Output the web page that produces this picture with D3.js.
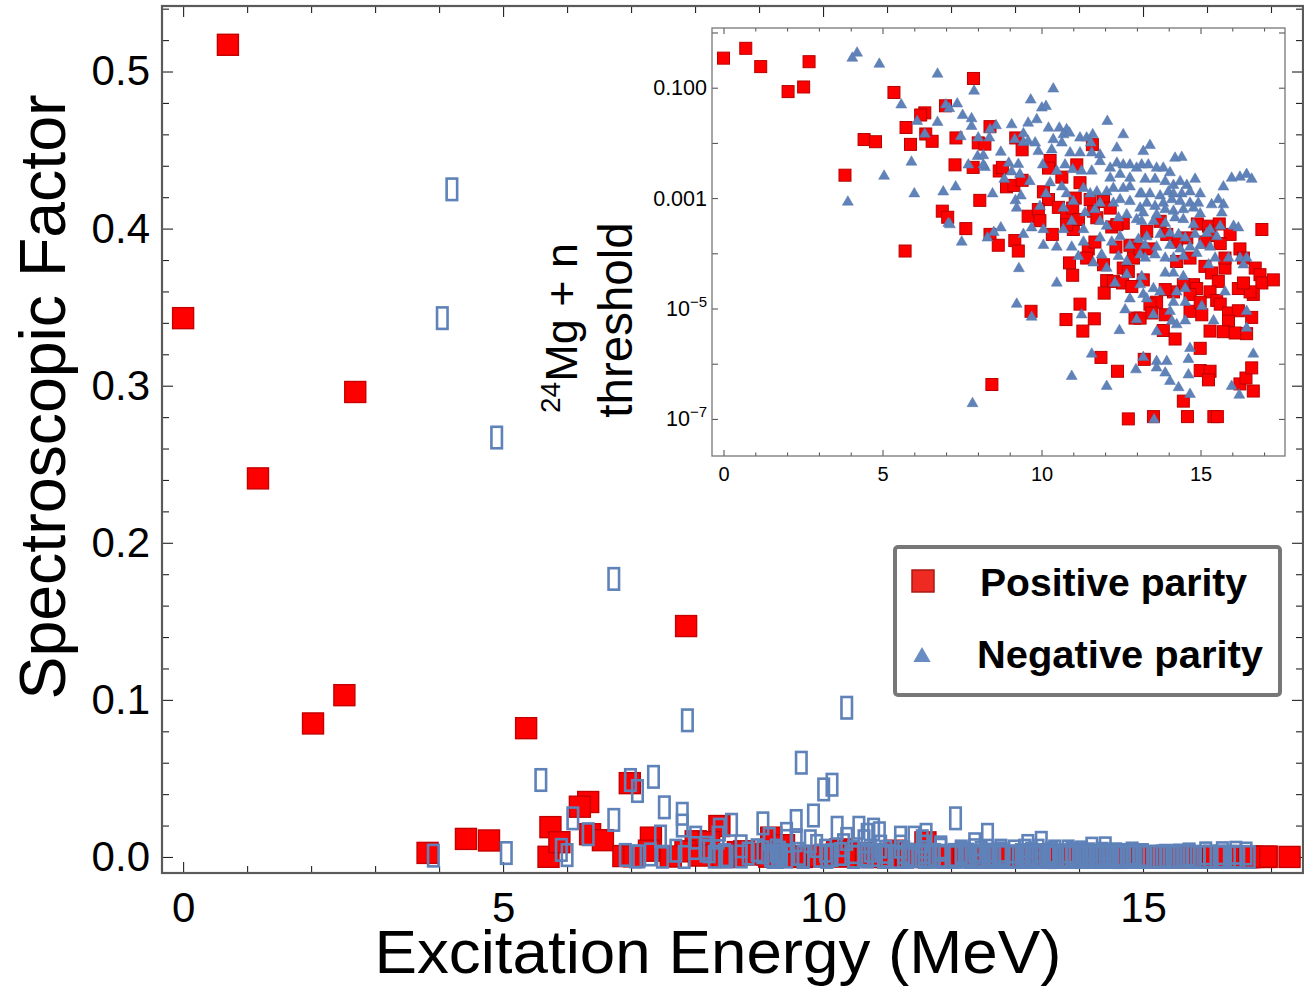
<!DOCTYPE html>
<html><head><meta charset="utf-8">
<script src="https://cdn.jsdelivr.net/npm/d3@7"></script>
<style>
body{margin:0;background:#fff}
svg{display:block}
text{font-family:"Liberation Sans",Arial,sans-serif;fill:#000}
</style></head>
<body><svg id="chart" width="1304" height="986"></svg>
<script>
// ---------- data ----------
// Positive parity: excitation energy (MeV) and spectroscopic factor
const posE = [
 0.00,0.70,1.17,2.03,2.52,2.69,3.82,4.42,4.78,5.36,
 5.74,5.71,
 7.86,6.98,6.33,6.20,6.36,6.56,5.88,7.31,8.38,8.01,
 8.22,9.19,9.39,7.28,7.85,8.67,8.77,8.90,9.13,9.39,
 8.06,6.88,7.05,7.62,8.38,8.64,9.16,9.27,9.58,9.67,
 8.44,
 10.27,10.22,11.11,10.64,11.21,11.06,11.60,10.06,10.22,9.90,
 9.95,10.53,10.79,10.98,11.00,10.79,11.16,11.63,11.53,11.74,
 11.95,12.16,12.57,12.21,12.37,10.34,11.47,11.68,11.42,10.88,
 10.98,11.95,12.34,12.78,12.89,13.10,12.57,12.73,12.05,12.26,
 12.55,12.84,11.97,11.21,10.77,11.66,11.30,12.94,11.87,12.39,
 12.73,
 14.90,15.25,15.59,15.30,15.93,16.24,15.62,15.14,14.57,14.25,
 13.94,13.73,13.31,13.41,14.25,14.67,15.14,15.35,15.77,15.77,
 16.35,16.72,16.87,16.93,17.29,16.66,16.56,16.19,16.35,15.56,
 15.30,14.78,14.88,14.67,14.46,14.15,13.89,13.62,13.41,13.20,
 13.10,13.47,13.89,14.67,14.99,15.04,15.51,15.62,15.88,16.19,
 15.88,16.61,15.30,15.72,16.09,16.45,13.83,14.20,16.93,14.99,
 13.23,14.99,15.30,15.25,16.24,16.43,16.61,16.66,14.46,13.52,
 14.59,15.42,15.53
];
const posSF = [
 0.343,0.517,0.241,0.085,0.103,0.296,0.0026,0.0115,0.0105,0.082,
 0.019,0.00011,
 0.147,0.047,0.035,0.032,0.0145,0.0107,0.0094,0.0123,0.0197,0.0100,
 0.0095,0.0123,0.0075,0.0040,0.0036,0.0031,0.0036,0.0016,0.0017,0.0021,
 0.00091,0.00058,0.00045,0.00028,0.00022,0.00014,0.00017,0.00011,0.00047,8.9e-6,
 4.2e-7,
 0.0048,0.0035,0.0040,0.0024,0.0019,0.0010,0.0093,0.0013,0.00094,0.00062,
 0.00039,0.00068,0.00047,0.00066,0.00027,0.00033,0.00041,0.00058,0.00094,0.00044,
 0.00087,0.00066,0.00035,0.00030,0.00033,0.00022,0.00012,0.00016,8.2e-5,6.7e-5,
 4.0e-5,6.2e-5,0.00013,0.00014,8.2e-5,0.00012,5.4e-5,4.7e-5,3.2e-5,3.1e-5,
 2.9e-5,2.5e-5,1.9e-5,1.2e-5,6.3e-6,6.5e-6,3.9e-6,6.7e-6,1.3e-6,7.3e-7,
 1.0e-7,
 0.00034,0.00031,0.00034,0.00021,0.00022,0.00012,0.00015,0.00016,0.00019,0.00016,
 0.00022,0.00038,0.00025,0.00012,7.1e-5,8.2e-5,5.8e-5,4.4e-5,5.4e-5,8.2e-5,
 8.2e-5,5.4e-5,4.1e-5,2.9e-5,3.3e-5,1.8e-5,2.0e-5,2.3e-5,2.9e-5,3.1e-5,
 2.0e-5,2.7e-5,2.3e-5,1.8e-5,2.7e-5,2.0e-5,2.2e-5,1.3e-5,1.2e-5,3.3e-5,
 6.7e-6,8.3e-6,7.7e-6,8.9e-6,1.3e-5,7.7e-6,1.4e-5,1.2e-5,8.3e-6,9.1e-6,
 5.9e-6,6.9e-6,3.9e-6,3.8e-6,3.6e-6,3.5e-6,4.0e-6,2.8e-6,0.00027,1.9e-6,
 1.2e-6,7.5e-7,7.3e-7,5.1e-7,4.3e-7,5.5e-7,8.4e-7,3.2e-7,2.1e-7,1.1e-7,
 1.1e-7,1.1e-7,1.1e-7
];
// Negative parity
const negE = [
 4.20,4.05,4.90,5.59,5.05,3.91,
 6.73,7.88,9.66,6.99,7.10,7.35,6.09,6.73,7.52,7.80,
 7.80,6.33,7.46,8.01,8.36,8.57,8.38,9.06,9.43,9.58,
 9.16,9.43,9.58,5.91,7.70,7.99,8.17,8.22,8.17,8.72,
 8.97,9.27,9.06,9.32,8.83,9.63,6.00,6.91,7.30,8.46,
 9.18,9.35,9.22,7.07,7.12,7.49,8.50,8.72,8.30,9.43,
 9.69,9.29,9.22,9.69,7.83,
 10.37,10.01,10.14,9.85,10.22,10.56,10.79,10.69,10.88,9.80,
 10.37,10.64,11.21,11.42,11.61,11.55,12.07,12.57,12.37,9.90,
 10.32,10.90,11.21,11.58,11.84,10.04,10.48,10.74,10.98,11.26,
 11.58,11.84,12.16,12.37,12.57,12.78,12.99,12.16,12.47,12.78,
 10.27,10.14,10.64,10.79,11.32,11.53,11.74,12.05,12.26,12.57,
 12.78,13.10,9.95,10.69,11.00,11.37,11.68,11.84,12.26,12.47,
 12.78,13.10,10.06,10.69,10.95,11.32,11.84,12.05,12.42,12.68,
 12.99,10.06,10.48,10.95,11.32,11.84,12.21,12.47,12.78,13.05,
 11.63,11.89,12.42,12.68,13.10,11.16,10.48,12.05,12.31,12.68,
 13.10,11.26,12.63,12.99,12.78,12.45,11.58,12.97,10.95,12.05,
 13.41,13.20,13.15,13.36,13.62,13.83,14.04,14.20,14.41,13.26,
 13.57,13.89,14.15,14.36,14.57,14.83,15.72,15.98,16.24,16.45,
 16.61,13.15,13.41,13.73,13.99,14.15,14.41,14.67,14.99,13.31,
 13.57,13.83,14.10,14.36,14.67,14.93,15.35,15.56,15.72,13.20,
 13.62,13.89,14.15,14.46,14.78,14.99,15.67,13.15,13.52,13.89,
 14.20,14.46,14.78,15.30,15.62,16.04,16.19,13.31,13.73,14.04,
 14.31,14.52,14.83,15.20,15.51,13.26,13.62,14.04,14.36,14.67,
 14.99,15.30,15.88,16.24,16.45,16.35,13.26,13.57,13.89,14.15,
 14.46,14.88,15.25,15.46,13.89,14.15,14.46,13.15,13.52,13.20,
 13.73,14.25,14.52,15.77,13.31,14.15,14.52,15.04,14.04,13.52,
 14.10,14.25,14.52,15.41,16.45,16.45,13.62,14.67,13.20,13.62,
 13.94,14.62,16.66,13.62,13.89,14.62,14.04,14.31,14.67,15.98,
 16.22,13.54
];
const negSF = [
 0.425,0.343,0.267,0.049,0.0025,0.00085,
 0.177,0.087,0.060,0.049,0.042,0.051,0.0246,0.0236,0.0316,0.0275,
 0.020,0.0145,0.013,0.0123,0.0123,0.0205,0.0174,0.0214,0.0147,0.0229,
 0.0115,0.0102,0.0107,0.0045,0.0040,0.0057,0.0059,0.0036,0.0040,0.0068,
 0.0043,0.0041,0.0030,0.0027,0.0022,0.0020,0.0012,0.0013,0.0016,0.0012,
 0.0009,0.0011,0.00066,0.00035,0.00033,0.00016,0.00024,0.00029,0.00019,0.00022,
 0.00029,5.3e-5,1.2e-5,7.0e-6,1.9e-7,
 0.095,0.043,0.046,0.0264,0.0186,0.0186,0.0174,0.0141,0.0151,0.0100,
 0.0115,0.0100,0.0123,0.0123,0.0141,0.0100,0.0246,0.0141,0.0081,0.0070,
 0.0075,0.0066,0.0066,0.0066,0.0061,0.0040,0.0031,0.0040,0.0033,0.0031,
 0.0031,0.0046,0.0035,0.0043,0.0040,0.0040,0.0035,0.0023,0.0027,0.0023,
 0.0019,0.0012,0.0016,0.0012,0.0015,0.0012,0.0013,0.0013,0.0015,0.0015,
 0.0016,0.0012,0.00071,0.00066,0.00087,0.00054,0.00062,0.00081,0.00081,0.00094,
 0.00087,0.00066,0.00027,0.00027,0.00038,0.00027,0.00038,0.00031,0.00044,0.00050,
 0.00041,0.00014,0.00013,0.00013,0.00016,0.00019,0.00016,0.00020,0.00014,0.00018,
 6.7e-5,9.4e-5,8.8e-5,7.1e-5,9.4e-5,8.8e-5,2.9e-5,5.4e-5,2.9e-5,4.1e-5,
 2.7e-5,7.7e-6,9.5e-6,6.3e-6,1.5e-5,4.0e-6,1.5e-6,7.8e-7,5.9e-7,3.9e-7,
 0.0090,0.0070,0.0040,0.0040,0.0035,0.0035,0.0029,0.0053,0.0055,0.0022,
 0.0022,0.0020,0.0017,0.0020,0.0017,0.0022,0.0016,0.0023,0.0024,0.0027,
 0.0022,0.0012,0.0012,0.0011,0.0013,0.0012,0.0012,0.0013,0.0012,0.00081,
 0.00071,0.00081,0.00094,0.00087,0.00081,0.00081,0.00076,0.00094,0.00076,0.00054,
 0.00050,0.00062,0.00058,0.00062,0.00066,0.00052,0.00054,0.00038,0.00038,0.00035,
 0.00044,0.00041,0.00033,0.00027,0.00031,0.00031,0.00029,0.00020,0.00022,0.00023,
 0.00022,0.00019,0.00022,0.00023,0.00020,0.00014,0.00013,0.00014,0.00012,0.00013,
 0.00014,0.00013,8.2e-5,8.2e-5,8.2e-5,6.2e-5,8.2e-5,9.4e-5,8.2e-5,8.2e-5,
 8.8e-5,0.00010,6.2e-5,8.2e-5,4.4e-5,4.4e-5,3.8e-5,3.8e-5,2.3e-5,1.8e-5,
 2.0e-5,2.0e-5,2.3e-5,2.0e-5,1.5e-5,1.3e-5,1.3e-5,1.1e-5,8.9e-6,7.7e-6,
 5.9e-6,5.1e-6,6.0e-6,6.0e-6,8.9e-6,4.4e-6,3.8e-6,1.9e-6,1.3e-6,1.1e-6,
 1.1e-6,1.2e-6,1.5e-6,8.4e-7,6.8e-7,6.3e-7,4.8e-7,3.7e-7,2.8e-7,3.9e-7,
 2.7e-7,9.7e-8
];
// ticks and labels
const mainXTicks = [0,5,10,15];
const mainXMinor = [1,2,3,4,6,7,8,9,11,12,13,14,16,17];
const mainYTicks = [0,0.1,0.2,0.3,0.4,0.5];
const mainYMinor = [0.02,0.04,0.06,0.08,0.12,0.14,0.16,0.18,0.22,0.24,0.26,0.28,0.32,0.34,0.36,0.38,0.42,0.44,0.46,0.48,0.52,0.54];
const insetYTicks = [1e-7,1e-6,1e-5,1e-4,1e-3,1e-2,1e-1,1];
const insetYLabelVals = [1e-1,1e-3,1e-5,1e-7];
const insetYLabels = ["0.100","0.001","10^−5","10^−7"];
const legendLabels = ["Positive parity","Negative parity"];
const xTitle = "Excitation Energy (MeV)";
const yTitle = "Spectroscopic Factor";

const RED = "#ff0000", RED_EDGE = "#c40000", BLUE = "#5f82b9";

const pos = posE.map((e,i)=>({e, s:posSF[i]}));
const neg = negE.map((e,i)=>({e, s:negSF[i]}));

const svg = d3.select("#chart");

// ---------- main plot ----------
const L=162, R=1303, T=6, B=873;
const x = d3.scaleLinear().domain([-0.33,17.5]).range([L,R]);
const y = d3.scaleLinear().domain([-0.0102,0.5417]).range([B,T]);

const g = svg.append("g");
function styleAxis(sel){
  sel.select(".domain").remove();
  sel.selectAll(".tick line").attr("stroke","#222").attr("stroke-width",1.1);
}
// bottom
g.append("g").attr("transform",`translate(0,${B})`)
 .call(d3.axisBottom(x).tickValues(mainXTicks).tickSizeInner(-11).tickSizeOuter(0).tickPadding(19).tickFormat(d3.format("d")))
 .call(styleAxis)
 .selectAll("text").attr("font-size",42).attr("font-family","Liberation Sans, Arial, sans-serif").attr("fill","#000");
g.append("g").attr("transform",`translate(0,${B})`)
 .call(d3.axisBottom(x).tickValues(mainXMinor).tickSizeInner(-7).tickSizeOuter(0).tickFormat(""))
 .call(styleAxis);
// top
g.append("g").attr("transform",`translate(0,${T})`)
 .call(d3.axisTop(x).tickValues(mainXTicks).tickSizeInner(-11).tickSizeOuter(0).tickFormat(""))
 .call(styleAxis);
g.append("g").attr("transform",`translate(0,${T})`)
 .call(d3.axisTop(x).tickValues(mainXMinor).tickSizeInner(-7).tickSizeOuter(0).tickFormat(""))
 .call(styleAxis);
// left
g.append("g").attr("transform",`translate(${L},0)`)
 .call(d3.axisLeft(y).tickValues(mainYTicks).tickSizeInner(-11).tickSizeOuter(0).tickPadding(12).tickFormat(d3.format(".1f")))
 .call(styleAxis)
 .selectAll("text").attr("font-size",42).attr("font-family","Liberation Sans, Arial, sans-serif").attr("fill","#000");
g.append("g").attr("transform",`translate(${L},0)`)
 .call(d3.axisLeft(y).tickValues(mainYMinor).tickSizeInner(-7).tickSizeOuter(0).tickFormat(""))
 .call(styleAxis);
// right
g.append("g").attr("transform",`translate(${R},0)`)
 .call(d3.axisRight(y).tickValues(mainYTicks).tickSizeInner(-11).tickSizeOuter(0).tickFormat(""))
 .call(styleAxis);
g.append("g").attr("transform",`translate(${R},0)`)
 .call(d3.axisRight(y).tickValues(mainYMinor).tickSizeInner(-7).tickSizeOuter(0).tickFormat(""))
 .call(styleAxis);
// frame
g.append("rect").attr("x",L).attr("y",T).attr("width",R-L).attr("height",B-T)
 .attr("fill","none").attr("stroke","#5a5a5a").attr("stroke-width",2.2);

// markers main
const SQ=21;
g.append("g").selectAll("rect").data(pos).join("rect")
 .attr("x",d=>x(d.e)-SQ/2).attr("y",d=>y(d.s)-SQ/2).attr("width",SQ).attr("height",SQ)
 .attr("fill",RED).attr("stroke",RED_EDGE).attr("stroke-width",1.4);
const BW=10.5, BH=21.5;
g.append("g").selectAll("rect").data(neg).join("rect")
 .attr("x",d=>x(d.e)-BW/2).attr("y",d=>y(d.s)-BH/2).attr("width",BW).attr("height",BH)
 .attr("fill","none").attr("stroke",BLUE).attr("stroke-width",2.6);

// titles
svg.append("text").attr("x",718).attr("y",973).attr("text-anchor","middle")
 .attr("font-size",62).attr("textLength",687).attr("lengthAdjust","spacingAndGlyphs").text(xTitle);
svg.append("text").attr("transform","translate(65,397) rotate(-90)").attr("text-anchor","middle")
 .attr("font-size",64).attr("textLength",605).attr("lengthAdjust","spacingAndGlyphs").text(yTitle);

// threshold annotation
const t1 = svg.append("text").attr("transform","translate(577,328) rotate(-90)").attr("text-anchor","middle").attr("font-size",45);
t1.append("tspan").attr("font-size",28).attr("dy",-17).text("24");
t1.append("tspan").attr("dy",17).text("Mg + n");
svg.append("text").attr("transform","translate(632,320) rotate(-90)").attr("text-anchor","middle").attr("font-size",47.5).text("threshold");

// ---------- inset ----------
const iL=712, iR=1285, iT=28, iB=456;
const x2 = d3.scaleLinear().domain([-0.362,17.657]).range([iL,iR]);
const y2 = d3.scaleLog().domain([Math.pow(10,-7.672),Math.pow(10,0.0815)]).range([iB,iT]);
const ig = svg.append("g");
ig.append("rect").attr("x",iL).attr("y",iT).attr("width",iR-iL).attr("height",iB-iT).attr("fill","#fff");
function styleI(sel){
  sel.select(".domain").remove();
  sel.selectAll(".tick line").attr("stroke","#333").attr("stroke-width",0.9);
}
ig.append("g").attr("transform",`translate(0,${iB})`)
 .call(d3.axisBottom(x2).tickValues(mainXTicks).tickSizeInner(-6).tickSizeOuter(0).tickPadding(11).tickFormat(d3.format("d")))
 .call(styleI).selectAll("text").attr("font-size",20).attr("font-family","Liberation Sans, Arial, sans-serif").attr("fill","#000");
ig.append("g").attr("transform",`translate(0,${iB})`)
 .call(d3.axisBottom(x2).tickValues(mainXMinor).tickSizeInner(-3.5).tickSizeOuter(0).tickFormat("")).call(styleI);
ig.append("g").attr("transform",`translate(0,${iT})`)
 .call(d3.axisTop(x2).tickValues(mainXTicks).tickSizeInner(-6).tickSizeOuter(0).tickFormat("")).call(styleI);
ig.append("g").attr("transform",`translate(0,${iT})`)
 .call(d3.axisTop(x2).tickValues(mainXMinor).tickSizeInner(-3.5).tickSizeOuter(0).tickFormat("")).call(styleI);
ig.append("g").attr("transform",`translate(${iL},0)`)
 .call(d3.axisLeft(y2).tickValues(insetYTicks).tickSizeInner(-6).tickSizeOuter(0).tickFormat("")).call(styleI);
ig.append("g").attr("transform",`translate(${iR},0)`)
 .call(d3.axisRight(y2).tickValues(insetYTicks).tickSizeInner(-6).tickSizeOuter(0).tickFormat("")).call(styleI);
// y labels with superscripts
insetYLabelVals.forEach((v,i)=>{
  const parts = insetYLabels[i].split("^");
  const t = ig.append("text").attr("x",iL-5).attr("y",y2(v)+7.5).attr("text-anchor","end").attr("font-size",21.5);
  t.append("tspan").text(parts[0]);
  if(parts[1]){
    t.append("tspan").attr("font-size",15).attr("dy",-9).text(parts[1]);
  }
});
ig.append("rect").attr("x",iL).attr("y",iT).attr("width",iR-iL).attr("height",iB-iT)
 .attr("fill","none").attr("stroke","#777").attr("stroke-width",1.3);

const ISQ=12;
ig.append("g").selectAll("rect").data(pos).join("rect")
 .attr("x",d=>x2(d.e)-ISQ/2).attr("y",d=>y2(d.s)-ISQ/2).attr("width",ISQ).attr("height",ISQ)
 .attr("fill",RED).attr("stroke","#b80000").attr("stroke-width",1);
const tri = d3.symbol(d3.symbolTriangle, 52);
ig.append("g").selectAll("path").data(neg).join("path")
 .attr("transform",d=>`translate(${x2(d.e)},${y2(d.s)})`).attr("d",tri)
 .attr("fill",BLUE).attr("stroke","#5677ad").attr("stroke-width",0.5);

// ---------- legend ----------
const lg = svg.append("g");
lg.append("rect").attr("x",895).attr("y",547).attr("width",385).attr("height",148).attr("rx",3)
 .attr("fill","#fff").attr("stroke","#777").attr("stroke-width",4);
lg.append("rect").attr("x",912).attr("y",570).attr("width",22).attr("height",22)
 .attr("fill","#ee2a22").attr("stroke","#a51b14").attr("stroke-width",1.5);
lg.append("path").attr("transform","translate(922,657)").attr("d",d3.symbol(d3.symbolTriangle,130))
 .attr("fill","#6a8cc4");
lg.selectAll("text.lbl").data(legendLabels).join("text").attr("class","lbl")
 .attr("x",(d,i)=>i===0?980:977).attr("y",(d,i)=>i===0?596:668)
 .attr("font-size",39).attr("font-weight","bold")
 .attr("textLength",(d,i)=>i===0?267:286).attr("lengthAdjust","spacingAndGlyphs").text(d=>d);
</script></body></html>
